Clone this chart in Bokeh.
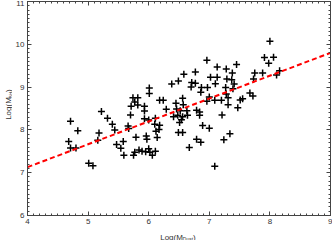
from bokeh.plotting import figure
from bokeh.models import Range1d, LinearAxis, SingleIntervalTicker, ColumnDataSource, Spacer
from bokeh.layouts import row, column
from bokeh.core.properties import value
from bokeh.embed import file_html
from bokeh.resources import INLINE
import math

# Data
log_mdust = [4.71, 4.83, 4.68, 4.71, 4.80, 5.01, 5.08, 5.22, 5.32, 5.18,
             5.16, 5.40, 5.44, 5.47, 5.54, 5.58, 5.59, 5.70, 5.66, 5.67,
             5.79, 5.75, 5.77, 5.84, 5.89, 5.95, 6.00, 6.02, 6.06, 6.11,
             5.96, 5.97, 5.93, 6.00, 5.74, 5.82, 5.77, 5.82, 5.71, 5.93,
             5.93, 6.01, 6.01, 6.11, 6.10, 6.18, 6.17, 6.12, 6.14, 6.18,
             6.24, 6.29, 6.45, 6.46, 6.56, 6.57, 6.52, 6.63, 6.41, 6.48,
             6.64, 6.79, 6.84, 6.84, 6.56, 6.54, 6.51, 6.49, 6.56, 6.67,
             6.79, 6.86, 6.89, 7.00, 7.09, 7.24, 7.34, 6.38, 6.49, 6.58,
             6.77, 6.71, 6.77, 6.70, 6.87, 6.86, 6.96, 7.13, 7.02, 7.13,
             7.10, 6.97, 7.00, 6.96, 7.09, 7.20, 7.28, 7.29, 7.27, 7.28,
             7.31, 7.31, 7.21, 7.38, 7.37, 7.41, 7.39, 7.45, 8.00, 7.91,
             8.06, 7.98, 7.75, 7.88, 8.16, 8.11, 7.73, 7.67, 7.72, 7.55,
             7.51, 7.47]
log_mbh = [8.20, 7.98, 7.73, 7.58, 7.58, 7.22, 7.16, 8.43, 8.27, 7.93,
           7.76, 8.13, 8.00, 7.66, 7.57, 7.73, 7.41, 8.35, 8.09, 8.03,
           7.83, 7.41, 7.48, 7.53, 7.50, 7.49, 7.56, 7.48, 7.41, 7.50,
           7.86, 7.78, 8.26, 8.23, 8.75, 8.75, 8.65, 8.58, 8.55, 8.55,
           8.44, 8.98, 8.85, 8.27, 8.13, 8.11, 8.01, 7.97, 7.82, 8.69,
           8.69, 8.48, 8.62, 8.49, 8.74, 8.59, 8.45, 8.45, 8.31, 8.34,
           8.34, 8.46, 8.42, 8.34, 8.31, 8.24, 8.17, 7.94, 7.94, 7.59,
           7.78, 7.71, 8.10, 8.04, 7.15, 7.77, 7.91, 9.07, 9.14, 9.30,
           9.35, 9.11, 9.09, 9.00, 8.99, 8.88, 9.63, 9.47, 9.23, 9.23,
           9.08, 8.99, 8.77, 8.67, 8.69, 8.69, 9.42, 9.19, 8.99, 8.84,
           8.75, 8.59, 8.35, 9.33, 9.17, 9.07, 8.96, 9.53, 10.07, 9.69,
           9.70, 9.56, 9.33, 9.33, 9.38, 9.28, 9.19, 8.86, 8.79, 8.73,
           8.70, 8.52]
fit_x = [4.0, 9.0]
fit_y = [7.13, 9.80]
x_title = ["Log(M", "Dust", ")"]
y_title = ["Log(M", "BH", ")"]

FONT = "Liberation Sans"
TXT = "#333333"
AX = "#444444"

MAIN_W, MAIN_H = 320, 226
SIDE_W, BOT_H = 12, 14

p = figure(width=MAIN_W, height=MAIN_H, output_backend="svg", toolbar_location=None,
           title=None,
           x_range=Range1d(4, 9), y_range=Range1d(6, 11),
           x_axis_location=None, y_axis_location=None,
           min_border_left=13, min_border_right=2, min_border_top=1, min_border_bottom=10)
p.grid.visible = False
p.outline_line_color = AX
p.outline_line_width = 1
p.border_fill_color = "white"

def make_axis(labels):
    ax = LinearAxis(ticker=SingleIntervalTicker(interval=1, num_minor_ticks=10))
    ax.major_tick_in = 4
    ax.major_tick_out = 0
    ax.minor_tick_in = 2
    ax.minor_tick_out = 0
    ax.major_tick_line_color = AX
    ax.minor_tick_line_color = AX
    ax.axis_line_color = AX
    if labels:
        ax.major_label_text_font = FONT
        ax.major_label_text_font_size = "8px"
        ax.major_label_text_color = TXT
    else:
        ax.major_label_text_color = None
        ax.major_label_standoff = 0
    return ax

bx = make_axis(True); bx.major_label_standoff = 3
ly = make_axis(True); ly.major_label_standoff = 3
p.add_layout(bx, "below")
p.add_layout(ly, "left")
p.add_layout(make_axis(False), "above")
p.add_layout(make_axis(False), "right")

src = ColumnDataSource(dict(x=log_mdust, y=log_mbh))
p.scatter("x", "y", source=src, marker="cross", size=7, line_width=1.5, line_color="black")
p.line(fit_x, fit_y, line_color="#ff0000", line_width=2, line_dash="5 3")

def text_fig(w, h):
    f = figure(width=w, height=h, output_backend="svg", toolbar_location=None,
               title=None,
               x_range=Range1d(0, w), y_range=Range1d(0, h),
               min_border=0, min_border_left=0, min_border_right=0,
               min_border_top=0, min_border_bottom=0,
               x_axis_location=None, y_axis_location=None)
    f.grid.visible = False
    f.outline_line_color = None
    return f

# x-axis title (below the plot), coordinates in pixels of that strip
xf = text_fig(MAIN_W, BOT_H)
xs = [147.7, 170.3, 180.6]
ys = [3.5, 2, 3.5]
sizes = ["8px", "5px", "8px"]
for t, x0, y0, s in zip(x_title, xs, ys, sizes):
    xf.text(x=[x0], y=[y0], text=[t], text_font=value(FONT), text_font_size=s,
            text_color=TXT, text_baseline="alphabetic", text_align="left")

# y-axis title (left strip), rotated
yf = text_fig(SIDE_W, MAIN_H)
yxs = [8, 10, 8]
yys = [101.0, 123.6, 130.5]
for t, x0, y0, s in zip(y_title, yxs, yys, sizes):
    yf.text(x=[x0], y=[y0], text=[t], text_font=value(FONT), text_font_size=s,
            text_color=TXT, text_baseline="alphabetic", text_align="left", angle=math.pi / 2)

lay = column(row(yf, p), row(Spacer(width=SIDE_W, height=BOT_H), xf))
open("out.html", "w").write(file_html(lay, INLINE))
